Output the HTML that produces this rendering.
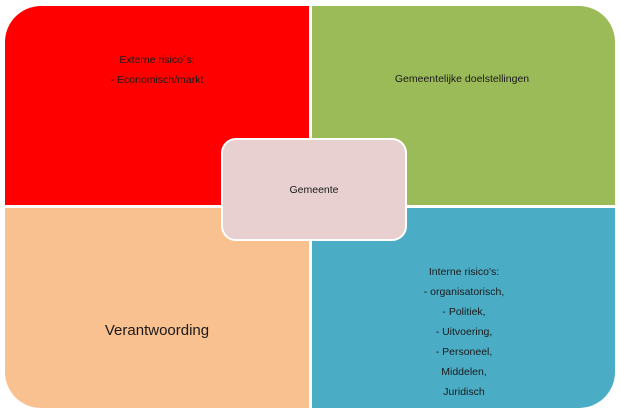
<!DOCTYPE html>
<html><head><style>
body{margin:0;width:620px;height:413px;background:#fff;overflow:hidden;position:relative;font-family:"Liberation Sans",sans-serif;color:#1a1a1a}
.q{position:absolute}
.t{position:absolute;text-align:center;font-size:10.5px;line-height:20px;white-space:nowrap}
</style></head><body>
<div class="q" style="left:5px;top:6px;width:304px;height:199px;background:#ff0000;border-top-left-radius:36px"></div>
<div class="q" style="left:312px;top:6px;width:303px;height:199px;background:#9bbb59;border-top-right-radius:36px"></div>
<div class="q" style="left:5px;top:208px;width:304px;height:200px;background:#f9c090;border-bottom-left-radius:36px"></div>
<div class="q" style="left:312px;top:208px;width:303px;height:200px;background:#4bacc6;border-bottom-right-radius:36px"></div>
<div class="q" style="left:221px;top:138px;width:182px;height:99px;background:#e8d0d0;border:2.5px solid #fff;border-radius:15px"></div>
<div class="t" style="left:57px;width:200px;top:50px">Externe risico´s:<br>- Economisch/markt</div>
<div class="t" style="left:362px;width:200px;top:69px">Gemeentelijke doelstellingen</div>
<div class="t" style="left:214px;width:200px;top:180px">Gemeente</div>
<div class="t" style="left:57px;width:200px;top:321px;font-size:15px">Verantwoording</div>
<div class="t" style="left:364px;width:200px;top:262px">Interne risico's:<br>- organisatorisch,<br>- Politiek,<br>- Uitvoering,<br>- Personeel,<br>Middelen,<br>Juridisch</div>
</body></html>
